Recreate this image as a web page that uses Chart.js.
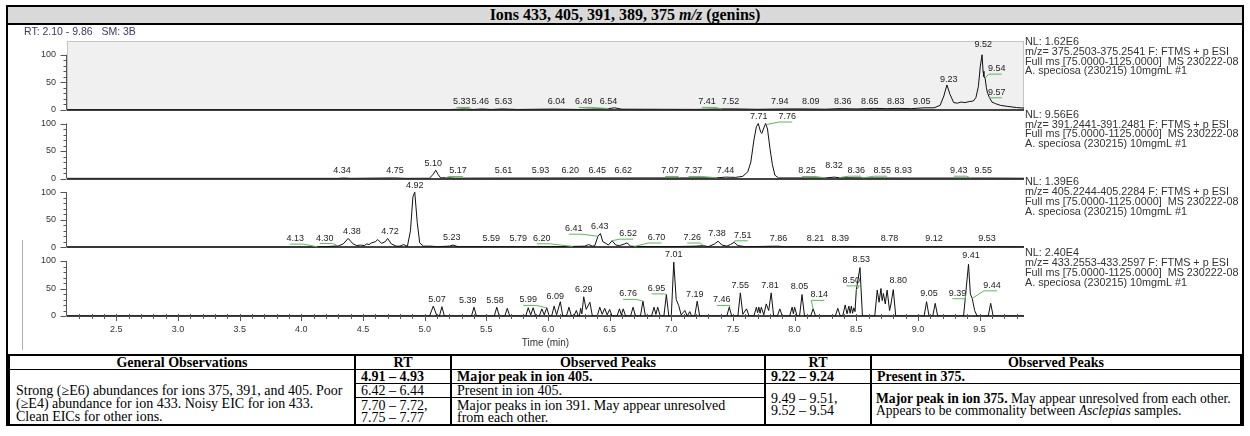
<!DOCTYPE html>
<html>
<head>
<meta charset="utf-8">
<script src="https://cdn.jsdelivr.net/npm/chart.js@4/dist/chart.umd.min.js"></script>
<style>
  body { margin: 0; background: #fff; width: 1250px; height: 436px; position: relative; overflow: hidden; }
  #frame { position: absolute; left: 6px; top: 5px; width: 1238px; height: 421px; border: 2px solid #000; box-sizing: border-box; }
  #title { position: absolute; left: 8px; top: 7px; width: 1234px; height: 16px; background: #d9d9d9; border-bottom: 2px solid #000;
           font: bold 16px "Liberation Serif", serif; text-align: center; line-height: 16px; }
  #plot { position: absolute; left: 8px; top: 25px; width: 1234px; height: 329px; }
  #obs { position: absolute; left: 8px; top: 354px; width: 1234px; border-collapse: collapse; table-layout: fixed;
         font: 14px "Liberation Serif", serif; color: #000; }
  #obs th, #obs td { border: 1px solid #000; border-left-width: 2px; border-right-width: 2px; padding: 0 5px;
                     line-height: 13px; white-space: nowrap; text-align: left; vertical-align: middle; }
  #obs th { text-align: center; font-weight: bold; border-top-width: 2px; height: 13px; }
  #obs td.gen { padding-left: 6px; }
  #obs td.gen span { display: block; position: relative; top: 6px; }
  #obs td.two { line-height: 12px; }
  #obs td.wide { font-size: 13.6px; padding-left: 4px; }
</style>
</head>
<body>
<div id="frame"></div>
<div id="title">Ions 433, 405, 391, 389, 375 <i>m/z</i> (genins)</div>
<div id="plot"><canvas id="chrom" width="1234" height="329"></canvas></div>
<table id="obs">
  <colgroup><col style="width:346px"><col style="width:96px"><col style="width:314px"><col style="width:106px"><col></colgroup>
  <tr><th>General Observations</th><th>RT</th><th>Observed Peaks</th><th>RT</th><th>Observed Peaks</th></tr>
  <tr style="height:14px">
    <td rowspan="3" class="gen"><span>Strong (&ge;E6) abundances for ions 375, 391, and 405. Poor<br>(&ge;E4) abundance for ion 433. Noisy EIC for ion 433.<br>Clean EICs for other ions.</span></td>
    <td><b>4.91 &ndash; 4.93</b></td><td><b>Major peak in ion 405.</b></td>
    <td><b>9.22 &ndash; 9.24</b></td><td><b>Present in 375.</b></td>
  </tr>
  <tr style="height:12px">
    <td>6.42 &ndash; 6.44</td><td>Present in ion 405.</td>
    <td rowspan="2" class="two">9.49 &ndash; 9.51,<br>9.52 &ndash; 9.54</td>
    <td rowspan="2" class="two wide"><b>Major peak in ion 375.</b> May appear unresolved from each other.<br>Appears to be commonality between <i>Asclepias</i> samples.</td>
  </tr>
  <tr style="height:28px">
    <td class="two">7.70 &ndash; 7.72,<br>7.75 &ndash; 7.77</td><td class="two">Major peaks in ion 391. May appear unresolved<br>from each other.</td>
  </tr>
</table>

<script>
// axis ticks
const timeTicks = [2.5, 3.0, 3.5, 4.0, 4.5, 5.0, 5.5, 6.0, 6.5, 7.0, 7.5, 8.0, 8.5, 9.0, 9.5];
const relTicks = [0, 50, 100];

// panel info, top to bottom
const normLevels = ['1.62E6', '9.56E6', '1.39E6', '2.40E4'];
const massRanges = ['375.2503-375.2541', '391.2441-391.2481', '405.2244-405.2284', '433.2553-433.2597'];

// traces: [retention time (min), relative abundance (%)]
const ion375 = [[2.10,0.3],[5.20,0.3],[5.33,1.5],[5.40,0.5],[5.46,1.5],[5.54,0.5],[5.63,1.5],[5.75,0.5],[6.04,1.2],[6.25,0.5],
  [6.49,2],[6.54,3.5],[6.60,1],[7.20,0.6],[7.41,1.5],[7.52,1.5],[7.70,0.8],[7.94,1.5],[8.09,1.5],[8.25,1],[8.36,2],[8.50,1.5],
  [8.65,2.5],[8.75,2],[8.83,2.5],[8.95,2],[9.05,3.5],[9.13,3.5],[9.18,8],[9.21,25],[9.235,45],[9.26,28],[9.29,13],[9.32,12],
  [9.35,14],[9.38,13],[9.42,15],[9.45,16],[9.47,22],[9.49,42],[9.505,78],[9.52,100],[9.528,70],[9.535,60],[9.545,57],[9.555,40],
  [9.565,30],[9.58,22],[9.60,14],[9.63,11],[9.67,8],[9.73,6],[9.80,4],[9.86,3]];

const ion391 = [[2.10,0.3],[4.30,0.3],[4.34,1],[4.40,0.3],[4.75,1],[4.85,0.3],[5.04,0.5],[5.07,8],[5.09,15],[5.11,7],[5.13,1],
  [5.17,1.5],[5.25,0.6],[5.61,0.8],[5.93,0.8],[6.20,1],[6.45,1],[6.62,1],[7.07,1],[7.37,1.2],[7.44,2.5],[7.52,2],[7.58,4],
  [7.62,12],[7.645,30],[7.67,70],[7.69,94],[7.705,100],[7.725,84],[7.735,82],[7.75,92],[7.765,100],[7.78,90],[7.80,55],
  [7.82,25],[7.84,6],[7.87,1],[8.25,1],[8.32,2.5],[8.36,1.5],[8.55,1],[8.93,0.8],[9.43,0.8],[9.55,0.8],[9.86,0.5]];

const ion405 = [[2.10,0],[4.10,0],[4.13,0.8],[4.20,1],[4.26,2],[4.30,2.5],[4.34,6],[4.38,16],[4.42,6],[4.45,3],[4.48,4],
  [4.51,3],[4.53,6],[4.55,5],[4.57,8],[4.60,10],[4.62,14],[4.65,7],[4.68,10],[4.70,16],[4.73,6],[4.77,2],[4.80,2],[4.83,5],
  [4.86,1.5],[4.885,30],[4.905,92],[4.92,100],[4.94,45],[4.96,8],[4.99,2],[5.05,2],[5.10,1],[5.20,2],[5.23,4],[5.27,1],
  [5.59,1],[5.79,1],[6.20,1.5],[6.30,2],[6.33,5],[6.36,2],[6.38,3],[6.405,20],[6.425,25],[6.445,10],[6.47,7],[6.49,4],
  [6.52,12],[6.55,4],[6.58,3],[6.62,6],[6.64,8],[6.67,2],[6.70,1.5],[7.00,1],[7.20,2],[7.26,3],[7.30,1],[7.35,6],[7.38,11],
  [7.41,4],[7.45,2],[7.48,5],[7.51,9],[7.54,3],[7.60,1],[7.86,2],[7.92,1],[8.21,1],[8.39,1.5],[8.78,1],[9.12,1],[9.53,1],[9.86,0.5]];

const ion433 = [[2.10,0],[5.04,0],[5.07,18],[5.10,0],[5.12,0],[5.14,17],[5.16,0],[5.38,0],[5.40,16],[5.42,0],
  [5.565,0],[5.585,16],[5.605,0],[5.65,0],[5.67,14],[5.69,0],[5.82,0],[5.84,15],[5.86,2],[5.88,15],[5.90,0],
  [5.93,0],[5.95,13],[5.97,2],[5.99,15],[6.01,0],[6.03,0],[6.05,18],[6.07,2],[6.10,26],[6.12,0],
  [6.15,0],[6.17,16],[6.19,0],[6.21,0],[6.23,10],[6.245,0],[6.255,0],[6.265,14],[6.275,4],[6.29,35],[6.31,12],[6.34,25],[6.36,0],
  [6.40,0],[6.42,16],[6.44,3],[6.46,14],[6.48,2],[6.50,12],[6.52,0],[6.56,0],[6.58,13],[6.595,2],[6.61,13],[6.63,0],
  [6.67,0],[6.69,16],[6.71,0],[6.75,0],[6.77,27],[6.79,0],[6.84,0],[6.86,16],[6.875,3],[6.89,16],[6.91,0],
  [6.94,0],[6.96,39],[6.98,0],[7.00,0],[7.02,98],[7.04,30],[7.06,19],[7.08,2],[7.11,10],[7.13,0],[7.15,8],[7.165,0],
  [7.19,0],[7.21,27],[7.23,0],[7.45,0],[7.47,16],[7.49,0],[7.54,0],[7.56,42],[7.58,3],[7.61,13],[7.63,0],
  [7.67,0],[7.69,16],[7.70,6],[7.71,16],[7.72,5],[7.73,16],[7.75,2],[7.77,22],[7.79,10],[7.81,42],[7.83,0],
  [7.86,0],[7.88,13],[7.90,0],[7.96,0],[7.98,16],[7.99,4],[8.00,16],[8.02,0],[8.04,0],[8.06,39],[8.08,0],
  [8.13,0],[8.15,13],[8.17,0],[8.33,0],[8.35,14],[8.37,0],[8.39,0],[8.41,20],[8.425,4],[8.44,18],[8.45,5],[8.46,18],
  [8.47,5],[8.48,15],[8.49,8],[8.50,47],[8.53,88],[8.55,0],[8.65,0],[8.67,47],[8.685,25],[8.70,50],[8.71,28],[8.72,41],
  [8.735,22],[8.75,47],[8.77,10],[8.78,20],[8.80,48],[8.82,0],[9.05,0],[9.07,26],[9.09,0],[9.12,0],[9.14,23],[9.16,0],
  [9.37,0],[9.39,47],[9.41,94],[9.425,40],[9.44,32],[9.46,10],[9.48,0],[9.57,0],[9.59,23],[9.61,0],[9.86,0]];

// peak labels: [text, time where the label sits, abundance it sits above, (peak time, peak abundance) for a leader]
const peaks375 = [['5.33',5.30,1.5,5.33,1.5],['5.46',5.45,1.5],['5.63',5.64,1.5],['6.04',6.07,1.5],['6.49',6.29,1.5,6.49,2],
  ['6.54',6.49,2],['7.41',7.29,1.5,7.41,1.5],['7.52',7.48,1.5],['7.94',7.88,1.5],['8.09',8.13,1.5],['8.36',8.39,1.5],
  ['8.65',8.61,1.5],['8.83',8.82,1.5],['9.05',9.03,1.5],['9.23',9.25,43],['9.52',9.53,105],['9.54',9.64,62,9.54,57],
  ['9.57',9.64,19,9.575,22]];
const peaks391 = [['4.34',4.33,1],['4.75',4.76,1],['5.10',5.07,15],['5.17',5.27,1,5.17,1.5],['5.61',5.64,1],['5.93',5.94,1],
  ['6.20',6.18,1],['6.45',6.40,1],['6.62',6.61,1],['7.07',6.99,1,7.07,1],['7.37',7.18,1,7.37,1.2],['7.44',7.44,1.5],
  ['7.71',7.71,100],['7.76',7.94,100,7.77,98],['8.25',8.10,1,8.25,1],['8.32',8.32,11],['8.36',8.50,1.5,8.36,1.5],
  ['8.55',8.71,1.5,8.55,1],['8.93',8.88,1.5],['9.43',9.33,1.5,9.43,0.8],['9.55',9.53,1.5]];
const peaks405 = [['4.13',3.95,3,4.13,0.8],['4.30',4.19,4,4.30,2.5],['4.38',4.41,15],['4.72',4.72,15],['4.92',4.92,100],
  ['5.23',5.22,5],['5.59',5.54,3.5],['5.79',5.76,3.5],['6.20',5.95,3.5,6.20,1.5],['6.41',6.21,21,6.405,20],['6.43',6.42,25],
  ['6.52',6.65,12,6.52,12],['6.70',6.88,5,6.70,1.5],['7.26',7.17,5,7.26,3],['7.38',7.37,12],['7.51',7.58,9,7.51,9],
  ['7.86',7.87,4],['8.21',8.17,3.5],['8.39',8.37,3.5],['8.78',8.77,3.5],['9.12',9.13,3.5],['9.53',9.56,3.5]];
const peaks433 = [['5.07',5.10,18],['5.39',5.35,15.5],['5.58',5.57,15.5],['5.99',5.84,16.5,5.99,15],['6.09',6.06,23],
  ['6.29',6.29,36],['6.76',6.65,27.5,6.77,27],['6.95',6.88,37.5,6.96,39],['7.01',7.02,99.5],['7.19',7.19,25.7],
  ['7.46',7.41,16.5,7.47,16],['7.55',7.56,43],['7.81',7.80,43],['8.05',8.04,40],['8.14',8.20,25.7,8.15,13],
  ['8.50',8.46,52,8.50,47],['8.53',8.54,90.6],['8.80',8.84,52],['9.05',9.09,28.7],['9.39',9.32,28.7,9.39,47],
  ['9.41',9.43,96.5],['9.44',9.60,43,9.44,32]];

const panels = [
  { id: 'y1', data: ion375, peaks: peaks375, weight: 4, infoTop: 1 },
  { id: 'y2', data: ion391, peaks: peaks391, weight: 3, infoTop: 5 },
  { id: 'y3', data: ion405, peaks: peaks405, weight: 2, infoTop: 4 },
  { id: 'y4', data: ion433, peaks: peaks433, weight: 1, infoTop: 6 }
];

const sans = '"Liberation Sans", Arial, sans-serif';

function yAxis(p) {
  return {
    type: 'linear', position: 'left', stack: 'eic', stackWeight: 1, weight: p.weight,
    min: 0, max: 125,
    afterFit: s => { s.width = 59; },
    afterBuildTicks: s => { s.ticks = relTicks.map(v => ({ value: v })); },
    border: { display: false },
    grid: { display: false, drawTicks: true, tickLength: 7 },
    ticks: { padding: 4, color: '#333', font: { family: sans, size: 9 }, callback: v => String(v) }
  };
}

const scales = {
  x: {
    type: 'linear', position: 'bottom', min: 2.10, max: 9.86,
    afterFit: s => { s.height = 38; },
    afterBuildTicks: s => { s.ticks = timeTicks.map(v => ({ value: v })); },
    border: { display: false },
    grid: { display: false, drawTicks: false },
    ticks: { autoSkip: false, maxRotation: 0, padding: 8, color: '#333', font: { family: sans, size: 9 },
             callback: v => v.toFixed(1) },
    title: { display: true, text: 'Time (min)', color: '#333', font: { family: sans, size: 10 },
             padding: { top: 0, bottom: 5 } }
  }
};
panels.forEach(p => { scales[p.id] = yAxis(p); });

function seg(ctx, x1, y1, x2, y2) {
  ctx.beginPath(); ctx.moveTo(x1, y1); ctx.lineTo(x2, y2); ctx.stroke();
}

const chromDecor = {
  id: 'chromDecor',
  beforeDatasetsDraw(chart) {
    const { ctx, chartArea: a, scales: sc } = chart;
    const first = sc.y1;
    const z = first.getPixelForValue(0);
    ctx.save();
    ctx.fillStyle = '#f0f0f0';
    ctx.fillRect(a.left, first.top, a.right - a.left, z - first.top);
    ctx.strokeStyle = '#c4c4c4';
    ctx.lineWidth = 1;
    ctx.strokeRect(a.left + 0.5, first.top + 0.5, a.right - a.left - 1, z - first.top);
    // baseline of each trace
    ctx.strokeStyle = '#444';
    ctx.lineWidth = 2;
    panels.forEach(p => {
      const y = Math.round(sc[p.id].getPixelForValue(0));
      seg(ctx, a.left, y, a.right, y);
    });
    ctx.restore();
  },
  afterDraw(chart) {
    const { ctx, chartArea: a, scales: sc } = chart;
    const xs = sc.x;
    ctx.save();
    ctx.strokeStyle = '#555';
    ctx.lineWidth = 1;

    // y axis lines and ticks for every panel
    panels.forEach(p => {
      const s = sc[p.id];
      const x = a.left - 0.5;
      seg(ctx, x, s.getPixelForValue(0), x, s.getPixelForValue(100));
      for (let v = 0; v <= 100; v += 10) {
        const y = Math.round(s.getPixelForValue(v)) + 0.5;
        seg(ctx, x - (v % 50 === 0 ? 6 : 3), y, x, y);
      }
    });

    // time axis minor / major ticks
    const yb = Math.round(sc.y4.getPixelForValue(0));
    for (let k = 22; k <= 98; k++) {
      const x = Math.round(xs.getPixelForValue(k / 10)) + 0.5;
      seg(ctx, x, yb - 2, x, yb + (k % 5 === 0 ? 5 : 3));
    }

    // green leaders from offset labels to their peaks
    ctx.strokeStyle = '#5cb85c';
    panels.forEach(p => {
      const s = sc[p.id];
      p.peaks.forEach(([txt, t, lv, pt, pv]) => {
        if (pt === undefined) return;
        const xl = xs.getPixelForValue(t), yl = s.getPixelForValue(lv) - 7 + 5.5;
        const xp = xs.getPixelForValue(pt), yp = s.getPixelForValue(pv);
        const dir = xp >= xl ? 1 : -1;
        ctx.beginPath();
        ctx.moveTo(xl - 5 * dir, yl);
        ctx.lineTo(xl + 8 * dir, yl);
        ctx.lineTo(xp, yp);
        ctx.stroke();
      });
    });

    // peak labels
    ctx.fillStyle = '#222';
    ctx.font = '9px ' + sans;
    ctx.textAlign = 'center';
    ctx.textBaseline = 'middle';
    panels.forEach(p => {
      const s = sc[p.id];
      p.peaks.forEach(([txt, t, lv]) => {
        ctx.fillText(txt, xs.getPixelForValue(t), s.getPixelForValue(lv) - 7);
      });
    });

    // header and per-trace info
    ctx.textAlign = 'left';
    ctx.fillStyle = '#3a3a66';
    ctx.font = '10.5px ' + sans;
    ctx.fillText('RT: 2.10 - 9.86   SM: 3B', 16, 7);

    ctx.fillStyle = '#333';
    ctx.font = '10.8px ' + sans;
    panels.forEach((p, i) => {
      const y0 = sc[p.id].top + p.infoTop;
      const x0 = a.right + 1;
      ctx.fillText('NL: ' + normLevels[i], x0, y0);
      ctx.fillText('m/z= ' + massRanges[i] + ' F: FTMS + p ESI', x0, y0 + 9.8);
      ctx.fillText('Full ms [75.0000-1125.0000]  MS 230222-08', x0, y0 + 19.6);
      ctx.fillText('A. speciosa (230215) 10mgmL #1', x0, y0 + 29.4);
    });

    // left edge of the pasted trace image
    ctx.strokeStyle = '#b0b0b0';
    seg(ctx, 14.5, 215, 14.5, 325);
    ctx.restore();
  }
};

new Chart(document.getElementById('chrom'), {
  type: 'line',
  data: {
    datasets: panels.map(p => ({
      data: p.data.map(([x, y]) => ({ x, y })),
      yAxisID: p.id,
      xAxisID: 'x',
      borderColor: '#111',
      borderWidth: 1,
      pointRadius: 0,
      tension: 0,
      fill: false
    }))
  },
  options: {
    responsive: false,
    animation: false,
    layout: { padding: { left: 0, right: 218, top: 16, bottom: 0 } },
    scales: scales,
    plugins: { legend: { display: false }, tooltip: { enabled: false } }
  },
  plugins: [chromDecor]
});
</script>
</body>
</html>
